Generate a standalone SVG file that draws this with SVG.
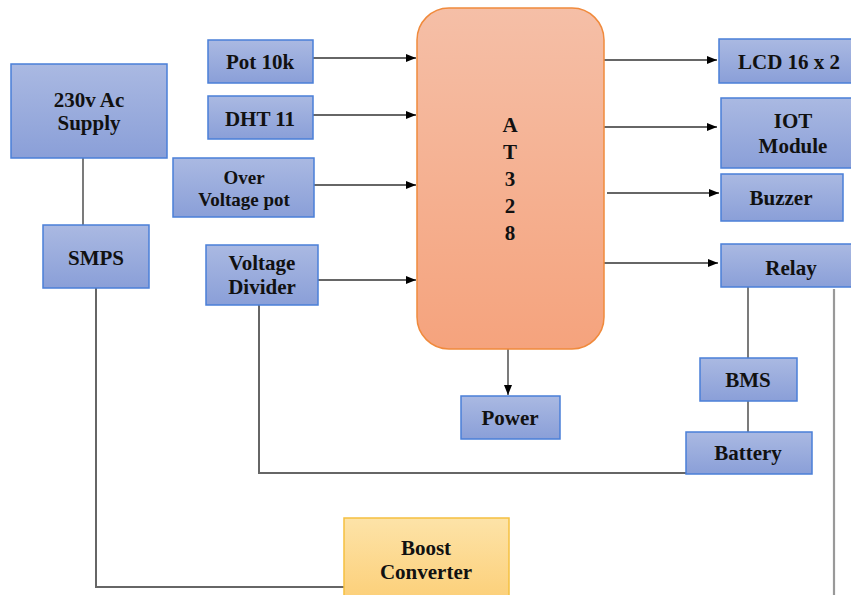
<svg xmlns="http://www.w3.org/2000/svg" width="851" height="595" viewBox="0 0 851 595">
<defs>
<linearGradient id="gb" x1="0" y1="0" x2="0" y2="1"><stop offset="0" stop-color="#aab9e2"/><stop offset="1" stop-color="#8a9fd8"/></linearGradient>
<linearGradient id="go" x1="0" y1="0" x2="0" y2="1"><stop offset="0" stop-color="#f5bfa7"/><stop offset="1" stop-color="#f5a37d"/></linearGradient>
<linearGradient id="gy" x1="0" y1="0" x2="0" y2="1"><stop offset="0" stop-color="#fde3a8"/><stop offset="1" stop-color="#fcd07a"/></linearGradient>
<marker id="ah" viewBox="0 0 10 8" refX="10" refY="4" markerWidth="10" markerHeight="8" markerUnits="userSpaceOnUse" orient="auto"><path d="M0,0 L10,4 L0,8 Z" fill="#000"/></marker>
<style>
.b{fill:url(#gb);stroke:#4a7fd8;stroke-width:1.5}
.o{fill:url(#go);stroke:#f08a3c;stroke-width:1.5}
.y{fill:url(#gy);stroke:#f5c040;stroke-width:1.5}
text{font-family:"Liberation Serif","Times New Roman",serif;font-weight:bold;font-size:21px;fill:#111;text-anchor:middle}
.sm{font-size:19px}
.c line,.c path{fill:none;stroke:#333;stroke-width:1.3}
.c .g{stroke:#666;stroke-width:2}
.c .lg{stroke:#999;stroke-width:2.2}
.c .a{marker-end:url(#ah)}
</style>
</defs>
<rect width="851" height="595" fill="#fff"/>
<g class="c" id="connectors">
<line x1="83" y1="158" x2="83" y2="225"/>
<path class="g" d="M96,288 V587 H345"/>
<path class="g" d="M259,305 V473 H686"/>
<line class="a" x1="313" y1="58" x2="416" y2="58"/>
<line class="a" x1="313" y1="115" x2="416" y2="115"/>
<line class="a" x1="314" y1="185" x2="416" y2="185"/>
<line class="a" x1="318" y1="280" x2="416" y2="280"/>
<line class="a" x1="604" y1="60" x2="717" y2="60"/>
<line class="a" x1="604" y1="127" x2="717" y2="127"/>
<line class="a" x1="607" y1="193" x2="719" y2="193"/>
<line class="a" x1="604" y1="263" x2="718" y2="263"/>
<line class="a" x1="508" y1="346" x2="508" y2="395"/>
<line x1="748" y1="287" x2="748" y2="437"/>
<line class="lg" x1="834" y1="289" x2="834" y2="595"/>
</g>
<g id="ac"><rect class="b" x="11" y="64" width="156" height="94"/><text x="89" y="107">230v Ac</text><text x="89" y="130">Supply</text></g>
<g id="smps"><rect class="b" x="43" y="225" width="106" height="63"/><text x="96" y="265">SMPS</text></g>
<g id="pot"><rect class="b" x="208" y="40" width="105" height="43"/><text x="260" y="69">Pot 10k</text></g>
<g id="dht"><rect class="b" x="208" y="96" width="105" height="43"/><text x="260" y="126">DHT 11</text></g>
<g id="ovp"><rect class="b" x="173" y="158" width="141" height="59"/><text class="sm" x="244" y="184">Over</text><text class="sm" x="244" y="206">Voltage pot</text></g>
<g id="vd"><rect class="b" x="206" y="245" width="112" height="60"/><text x="262" y="270">Voltage</text><text x="262" y="294">Divider</text></g>
<g id="at328"><rect class="o" x="417" y="8" width="187" height="341" rx="32"/><text x="510" y="132">A</text><text x="510" y="159">T</text><text x="510" y="186">3</text><text x="510" y="213">2</text><text x="510" y="240">8</text></g>
<g id="power"><rect class="b" x="461" y="396" width="99" height="43"/><text x="510" y="425">Power</text></g>
<g id="lcd"><rect class="b" x="719" y="39" width="140" height="44"/><text x="789" y="69">LCD 16 x 2</text></g>
<g id="iot"><rect class="b" x="721" y="98" width="135" height="70"/><text x="793" y="128">IOT</text><text x="793" y="153">Module</text></g>
<g id="buzzer"><rect class="b" x="721" y="174" width="122" height="47"/><text x="781" y="205">Buzzer</text></g>
<g id="relay"><rect class="b" x="721" y="244" width="135" height="43"/><text x="791" y="275">Relay</text></g>
<g id="bms"><rect class="b" x="700" y="358" width="97" height="43"/><text x="748" y="387">BMS</text></g>
<g id="battery"><rect class="b" x="686" y="432" width="126" height="42"/><text x="748" y="460">Battery</text></g>
<g id="boost"><rect class="y" x="344" y="518" width="165" height="80"/><text x="426" y="555">Boost</text><text x="426" y="579">Converter</text></g>
</svg>
